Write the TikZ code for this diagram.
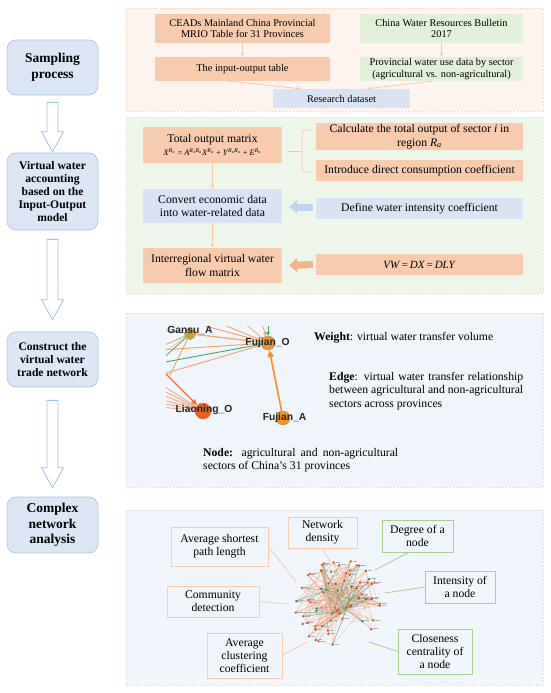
\documentclass[tikz,border=0pt]{standalone}
\usepackage{fontspec}
\usepackage{graphicx}
\setmainfont{Liberation Serif}
\newfontfamily\arialfont{Liberation Sans}
\usetikzlibrary{arrows.meta,calc}

\definecolor{pinkbg}{HTML}{FDF4EF}
\definecolor{pinkbd}{HTML}{F9D9C8}
\definecolor{orfill}{HTML}{F8CBAD}
\definecolor{grfill}{HTML}{E2F0D9}
\definecolor{blfill}{HTML}{DAE3F3}
\definecolor{greenbg}{HTML}{EEF5E9}
\definecolor{greenbd}{HTML}{DDEBD3}
\definecolor{bluebg}{HTML}{EFF5FA}
\definecolor{bluebd}{HTML}{D3E2F0}
\definecolor{leftfill}{HTML}{DCE6F4}
\definecolor{leftbd}{HTML}{B4C7E7}
\definecolor{hollowbd}{HTML}{9DC3E6}
\definecolor{orline}{HTML}{F8CBAD}
\definecolor{grline}{HTML}{A9D18E}
\definecolor{thinarr}{HTML}{F7C6A3}
\definecolor{blarrow}{HTML}{C3D4EE}
\definecolor{orarrow}{HTML}{F5B489}
\definecolor{gansu}{HTML}{C9A032}
\definecolor{fujo}{HTML}{F39222}
\definecolor{liao}{HTML}{E85F1C}
\definecolor{netor}{HTML}{F6A05A}
\definecolor{netsal}{HTML}{F7A27C}
\definecolor{netgr}{HTML}{3FA86A}
\definecolor{netol}{HTML}{CDA54A}
\definecolor{cledge}{HTML}{F4A582}
\definecolor{clgreen}{HTML}{4FA878}
\definecolor{clred}{HTML}{E0541E}
\definecolor{cldkgreen}{HTML}{1E8A5A}

\newcommand{\Ra}{\textit{R}\textsubscript{\textit{a}}}
\newcommand{\hollowarr}[4]{%
  \draw[harrow] ($(#1.south)+(-5.5,#3)$) -- ($(#2.north)+(-5.5,-#4-20)$)
    -- ($(#2.north)+(-11,-#4-20)$) -- ($(#2.north)+(0,-#4)$)
    -- ($(#2.north)+(11,-#4-20)$) -- ($(#2.north)+(5.5,-#4-20)$)
    -- ($(#1.south)+(5.5,#3)$) -- cycle;}

\tikzset{
  leftbox/.style={draw=leftbd, fill=leftfill, line width=0.7pt, rounded corners=9pt,
    align=center, inner sep=0pt, minimum width=91pt},
  bigtxt/.style={font=\fontsize{13.5}{15.5}\selectfont\bfseries},
  midtxt/.style={font=\fontsize{11.6}{12.8}\selectfont\bfseries},
  harrow/.style={draw=hollowbd, fill=white, line width=0.8pt, line join=miter},
  panel/.style={dash pattern=on 2pt off 1.5pt, line width=0.6pt},
  pbox/.style={align=center, inner sep=0pt, font=\fontsize{10.3}{11.8}\selectfont},
  gbox/.style={align=center, inner sep=0pt, font=\fontsize{11.7}{13.4}\selectfont},
  thin/.style={draw=thinarr, line width=0.7pt, -{Latex[length=3.5pt,width=3.5pt]}},
  lbox/.style={align=center, inner sep=0pt, line width=0.8pt, font=\fontsize{11.7}{13.3}\selectfont},
  leader/.style={line width=0.8pt},
  netnode/.style={circle, inner sep=0pt, draw=black!35, line width=0.3pt},
  netlabel/.style={font=\arialfont\bfseries\fontsize{10.3}{11}\selectfont, text=black!85, inner sep=0pt},
  netedge/.style={line width=0.9pt},
  cl/.style={draw=cledge, line width=0.3pt, opacity=0.75},
}

\begin{document}
\begin{tikzpicture}[x=1pt,y=-1pt]
\useasboundingbox (0,0) rectangle (550,693);
\fill[white] (0,0) rectangle (550,693);

% ---------------- Left column ----------------
\node[leftbox, bigtxt, minimum height=55pt] (samp) at (52.5,67.5) {Sampling\\process};
\node[leftbox, midtxt, minimum height=77pt] (virt) at (52.5,191.5) {Virtual water\\accounting\\based on the\\Input-Output\\model};
\node[leftbox, midtxt, minimum height=55pt] (cons) at (52.5,359.5) {Construct the\\virtual water\\trade network};
\node[leftbox, bigtxt, minimum height=56pt] (comp) at (52.5,525) {Complex\\network\\analysis};

\hollowarr{samp}{virt}{7}{1}
\hollowarr{virt}{cons}{9}{12}
\hollowarr{cons}{comp}{13}{9}

% ---------------- Panel 1 ----------------
\draw[panel, draw=pinkbd, fill=pinkbg] (126,8) rectangle (543,111);
\node[pbox, fill=orfill, minimum width=175pt, minimum height=29pt] (ceads) at (242.5,28.5) {CEADs Mainland China Provincial\\MRIO Table for 31 Provinces};
\node[pbox, fill=grfill, minimum width=163pt, minimum height=29pt] (cwrb) at (441.5,28.5) {China Water Resources Bulletin\\2017};
\node[pbox, fill=orfill, minimum width=175pt, minimum height=24pt] (iot) at (242.5,69) {The input-output table};
\node[pbox, fill=grfill, minimum width=163pt, minimum height=24pt] (prov) at (441.5,69) {Provincial water use data by sector\\(agricultural vs. non-agricultural)};
\node[pbox, fill=blfill, minimum width=137pt, minimum height=19pt] (rds) at (341.5,98.5) {Research dataset};
\draw[thin] (ceads.south) -- (iot.north);
\draw[thin] (cwrb.south) -- (prov.north);
\draw[thin] ($(iot.south)+(-13,0)$) -- ($(rds.north)+(-41,0)$);
\draw[thin] ($(prov.south)+(-9.5,0)$) -- ($(rds.north)+(25,0)$);

% ---------------- Panel 2 ----------------
\draw[panel, draw=greenbd, fill=greenbg] (126,117) rectangle (543,294);
\node[gbox, fill=orfill, minimum width=139pt, minimum height=36pt] (tom) at (212.5,145)
  {Total output matrix\\[-1pt]{\fontsize{8.3}{9}\selectfont\textit{X}\textsuperscript{\Ra} = \textit{A}\textsuperscript{\Ra\Ra}\textit{X}\textsuperscript{\Ra} + \textit{Y}\textsuperscript{\Ra\Ra} + \textit{E}\textsuperscript{\Ra}}};
\node[gbox, fill=orfill, minimum width=207pt, minimum height=27pt] (calc) at (419.5,136.5) {Calculate the total output of sector \textit{i} in\\region \Ra};
\node[gbox, fill=orfill, minimum width=207pt, minimum height=21pt] (intro) at (419.5,170.5) {Introduce direct consumption coefficient};
\node[gbox, fill=blfill, minimum width=139pt, minimum height=34pt] (conv) at (212.5,206) {Convert economic data\\into water-related data};
\node[gbox, fill=blfill, minimum width=207pt, minimum height=21pt] (defw) at (419.5,208.5) {Define water intensity coefficient};
\node[gbox, fill=orfill, minimum width=139pt, minimum height=35pt] (inter) at (212.5,265.5) {Interregional virtual water\\flow matrix};
\node[gbox, fill=orfill, minimum width=207pt, minimum height=21pt] (vw) at (419.5,264.5) {\fontsize{11}{12}\selectfont\textit{VW}\,=\,\textit{DX}\,=\,\textit{DLY}};
\draw[draw=thinarr, line width=0.7pt, rounded corners=3pt] (312,130) -- (302,130) -- (302,172) -- (312,172);
\draw[draw=thinarr, line width=0.7pt] (302,151) -- (288,151);
\draw[thin] (tom.south) -- (conv.north);
\draw[thin] (conv.south) -- (inter.north);
\draw[draw=blarrow, line width=7pt, -{Triangle[length=8pt,width=14pt]}] ($(defw.west)+(-3,-1.5)$) -- ($(conv.east)+(7,1)$);
\draw[draw=orarrow, line width=7pt, -{Triangle[length=8pt,width=14pt]}] ($(vw.west)+(-3,0)$) -- ($(inter.east)+(7,0)$);

% ---------------- Panel 3 ----------------
\draw[panel, draw=bluebd, fill=bluebg] (126,313) rectangle (543,487);
\node[gbox, anchor=west] (weight) at (314,338) {\textbf{Weight}: virtual water transfer volume};
\node[gbox, anchor=west, align=justify, text width=194pt] (edge) at (329,391) {\hyphenpenalty=10000\textbf{Edge}: virtual water transfer relationship\linebreak between agricultural and non-agricultural\linebreak sectors across provinces};
\node[gbox, anchor=west, align=justify, text width=195pt] (nodetxt) at (203,460) {\textbf{Node:} agricultural and non-agricultural sectors of China’s 31 provinces};

\node[netnode, fill=gansu, minimum size=11pt] (GansuA) at (190,334) {};
\node[netnode, fill=fujo, minimum size=14pt] (FujianO) at (268,343) {};
\node[netnode, fill=liao, minimum size=16pt] (LiaoningO) at (203,411) {};
\node[netnode, fill=fujo, minimum size=14pt] (FujianA) at (283,418) {};

\coordinate (p1) at (160,330);
\coordinate (p2) at (176,318);
\coordinate (p3) at (207,318);
\coordinate (p4) at (238,318);
\coordinate (p5) at (160,350);
\coordinate (p6) at (160,363);
\coordinate (p7) at (160,375);
\coordinate (p8) at (160,368);
\coordinate (q1) at (160,347);
\coordinate (q2) at (160,355);
\coordinate (q3) at (160,361);
\coordinate (q4) at (170,375);
\coordinate (t1) at (261,320);
\coordinate (t2) at (268,318);

\begin{scope}
\clip (166,326) rectangle (320,440);
\draw[netedge, draw=netor] (p1) -- (FujianO);
\draw[netedge, draw=netor] (p2) -- (FujianO);
\draw[netedge, draw=netsal] (p3) -- (FujianO);
\draw[netedge, draw=netor!80] (p4) -- (FujianO);
\draw[netedge, draw=netor] (p5) -- (FujianO);
\draw[netedge, draw=netgr] (p6) -- (FujianO);
\draw[netedge, draw=netsal] (p7) -- (FujianO);
\draw[netedge, draw=netor!85] (GansuA) -- (FujianO);
\draw[netedge, draw=netol, line width=0.7pt] (GansuA) -- (q1);
\draw[netedge, draw=netor!70, line width=0.7pt] (GansuA) -- (q2);
\draw[netedge, draw=netgr, line width=0.7pt] (GansuA) -- (q3);
\draw[netedge, draw=netol, line width=0.7pt] (GansuA) -- (q4);
\foreach \yy in {384,389,394,399,403,407} {
  \coordinate (r\yy) at (160,\yy);
  \draw[netedge, draw=netsal, line width=0.8pt] (r\yy) -- (LiaoningO);
}
\draw[draw=liao!90, line width=1.4pt, -{Triangle[length=6pt,width=5pt]}] (p8) -- (LiaoningO);
\draw[draw=netor, line width=0.8pt, -{Triangle[length=4pt,width=3.5pt]}] (t1) -- (FujianO);
\draw[draw=netgr, line width=0.8pt, -{Triangle[length=4pt,width=3.5pt]}] (t2) -- (FujianO);
\end{scope}
\draw[draw=fujo, line width=1.6pt, -{Triangle[length=7pt,width=6pt]}] (FujianA) -- (FujianO);
\node[netnode, fill=gansu, minimum size=11pt] at (GansuA) {};
\node[netnode, fill=fujo, minimum size=14pt] at (FujianO) {};
\node[netnode, fill=liao, minimum size=16pt] at (LiaoningO) {};
\node[netnode, fill=fujo, minimum size=14pt] at (FujianA) {};
\node[netlabel] (lGansu) at (190,331) {Gansu\_A};
\node[netlabel] (lFujO) at (267.5,342.5) {Fujian\_O};
\node[netlabel] (lLiao) at (204,410) {Liaoning\_O};
\node[netlabel] (lFujA) at (284.5,418) {Fujian\_A};

% ---------------- Panel 4 ----------------
\draw[panel, draw=bluebd, fill=bluebg] (126,510) rectangle (543,685);

\coordinate (hub) at (337,603);
\pgfmathsetseed{4711}
\foreach \i in {1,...,74}{
  \pgfmathsetmacro\ang{360*rnd}
  \pgfmathsetmacro\rr{45*sqrt(rnd)}
  \coordinate (n\i) at ($(hub)+({\rr*cos(\ang)},{0.98*\rr*sin(\ang)})$);
}
\coordinate (h1) at (331,600);
\coordinate (h2) at (342,596);
\coordinate (h3) at (345,610);
\coordinate (h4) at (333,613);
\coordinate (h5) at (326,590);
\coordinate (h6) at (350,600);
\foreach \i in {1,...,74}{
  \pgfmathtruncatemacro\k{random(1,6)}
  \pgfmathtruncatemacro\kk{random(1,6)}
  \draw[cl] (n\i) -- (h\k);
  \draw[cl] (n\i) -- (h\kk);
}
\foreach \i in {1,...,90}{
  \pgfmathtruncatemacro\a{random(1,74)}
  \pgfmathtruncatemacro\b{random(1,74)}
  \draw[cl] (n\a) -- (n\b);
}
\foreach \i in {1,...,30}{
  \pgfmathtruncatemacro\a{random(1,74)}
  \pgfmathtruncatemacro\k{random(1,6)}
  \draw[draw=clgreen, line width=0.45pt, opacity=0.8] (n\a) -- (h\k);
}
\foreach \i in {1,...,74}{
  \pgfmathtruncatemacro\g{random(0,3)}
  \ifnum\g=0
    \fill[cldkgreen] (n\i) circle (1.3pt);
  \else
    \fill[clred] (n\i) circle (1.3pt);
  \fi
  \draw[black!30, line width=0.5pt] ($(n\i)+(2,-0.5)$) -- ++(4.5,0);
}

\node[lbox, draw=orline, minimum width=97pt, minimum height=39pt] (asp) at (219.5,546.5) {Average shortest\\path length};
\node[lbox, draw=orline, minimum width=69pt, minimum height=31pt] (nd) at (322.5,532.5) {Network\\density};
\node[lbox, draw=grline, minimum width=71pt, minimum height=32pt] (deg) at (417.5,536) {Degree of a\\node};
\node[lbox, draw=grline, minimum width=70pt, minimum height=32pt] (ints) at (460,587) {Intensity of\\a node};
\node[lbox, draw=orline, minimum width=92pt, minimum height=31pt] (comd) at (213,601.5) {Community\\detection};
\node[lbox, draw=orline, minimum width=75pt, minimum height=45pt] (acc) at (244.5,655.5) {Average\\clustering\\coefficient};
\node[lbox, draw=grline, minimum width=74pt, minimum height=45pt] (clo) at (435,651.5) {Closeness\\centrality of\\a node};

\coordinate (e1) at (296,582);
\coordinate (e2) at (330,562);
\coordinate (e3) at (375,570);
\coordinate (e4) at (385,593);
\coordinate (e5) at (287,604);
\coordinate (e6) at (307,642);
\coordinate (e7) at (369,642);
\draw[leader, draw=orline] (asp.east) -- (e1);
\draw[leader, draw=orline] (nd.south) -- (e2);
\draw[leader, draw=grline] ($(deg.south)+(-9,0)$) -- (e3);
\draw[leader, draw=grline] (ints.west) -- (e4);
\draw[leader, draw=orline] (comd.east) -- (e5);
\draw[leader, draw=orline] (acc.east) -- (e6);
\draw[leader, draw=grline] (clo.west) -- (e7);
\end{tikzpicture}
\end{document}
